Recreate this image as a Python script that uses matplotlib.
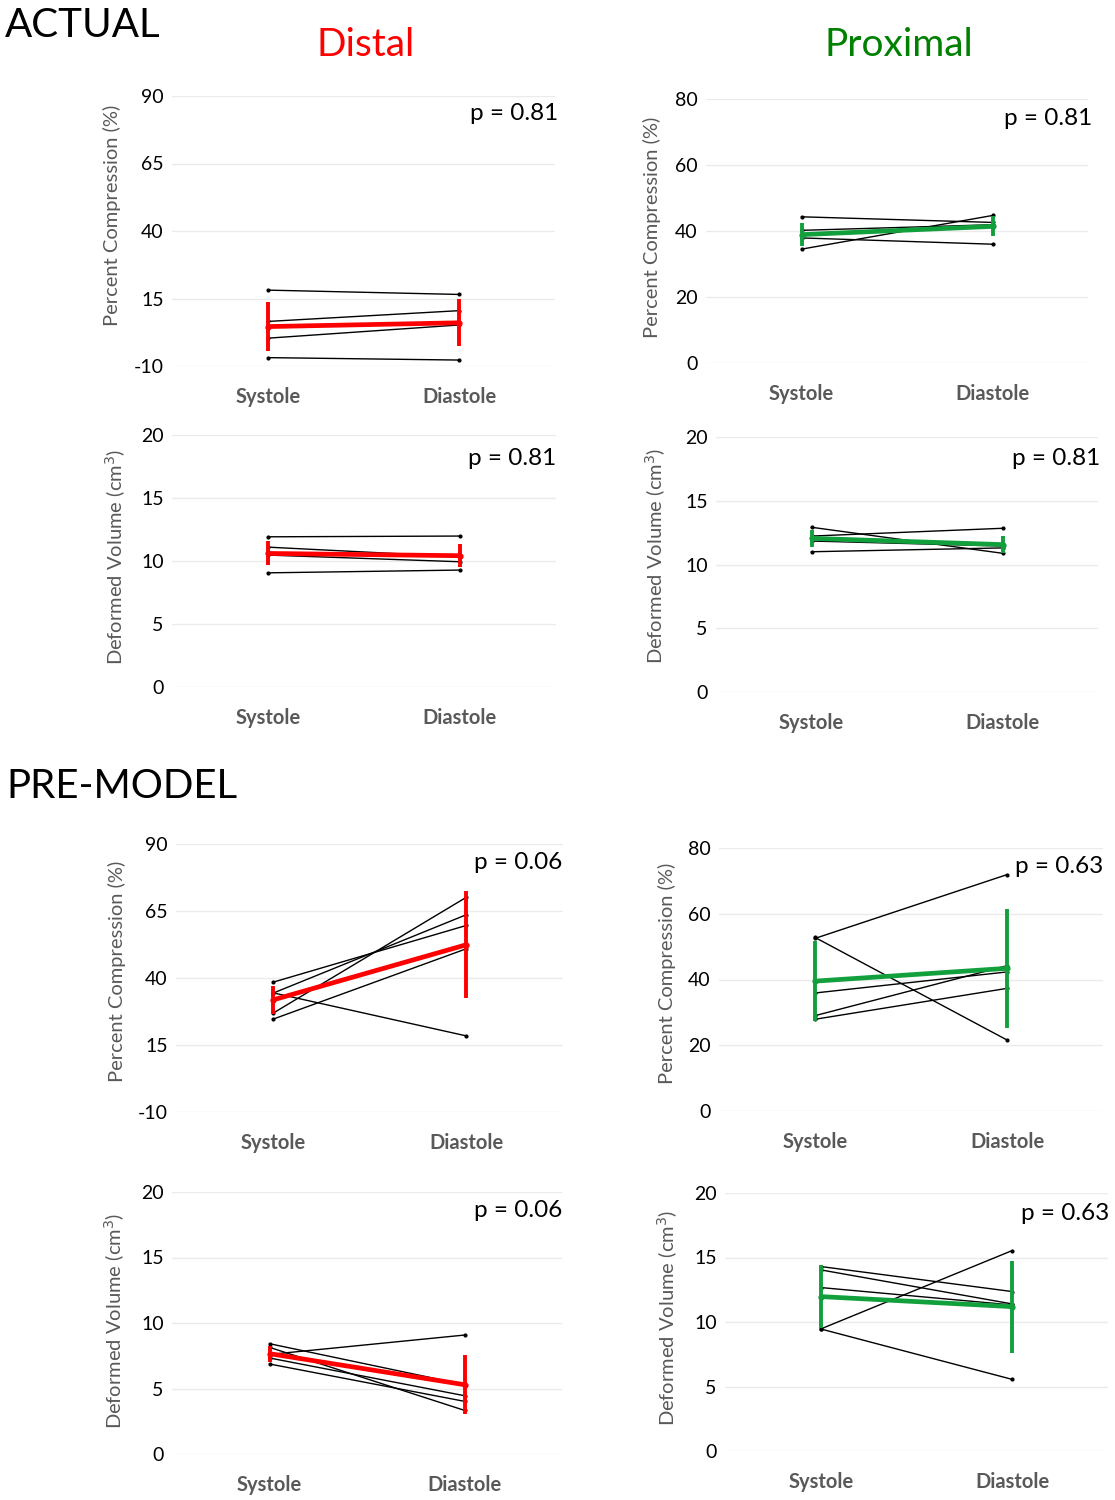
import matplotlib
matplotlib.use("Agg")
import matplotlib.pyplot as plt

plt.rcParams['font.family'] = ['Lato', 'DejaVu Sans']

categories = ["Systole", "Diastole"]

# ---- ACTUAL ----
act_dist_comp_sys = [18.1, 6.5, 0.3, -6.9]
act_dist_comp_dia = [16.5, 10.5, 5.2, -7.8]
act_dist_comp_mean = [4.6, 6.0]
act_dist_comp_err = [8.95, 8.7]

act_prox_comp_sys = [44.3, 40.2, 37.9, 34.5]
act_prox_comp_dia = [42.6, 41.9, 36.0, 44.7]
act_prox_comp_mean = [38.9, 41.4]
act_prox_comp_err = [3.4, 3.0]

act_dist_vol_sys = [11.92, 11.1, 10.47, 9.06]
act_dist_vol_dia = [11.98, 10.33, 9.94, 9.28]
act_dist_vol_mean = [10.6, 10.42]
act_dist_vol_err = [0.95, 0.93]

act_prox_vol_sys = [12.92, 12.23, 11.84, 11.0]
act_prox_vol_dia = [10.88, 12.84, 11.45, 11.3]
act_prox_vol_mean = [12.05, 11.56]
act_prox_vol_err = [0.68, 0.68]

# ---- PRE-MODEL ----
pre_dist_comp_sys = [38.4, 34.3, 34.5, 26.8, 24.6]
pre_dist_comp_dia = [59.6, 63.6, 18.4, 70.1, 50.9]
pre_dist_comp_mean = [31.8, 52.4]
pre_dist_comp_err = [5.35, 20.0]

pre_prox_comp_sys = [52.5, 52.8, 35.9, 29.0, 27.9]
pre_prox_comp_dia = [71.9, 21.6, 42.3, 44.2, 37.3]
pre_prox_comp_mean = [39.5, 43.4]
pre_prox_comp_err = [12.15, 18.1]

pre_dist_vol_sys = [8.42, 8.14, 7.33, 6.87, 7.6]
pre_dist_vol_dia = [5.29, 3.33, 4.45, 4.02, 9.08]
pre_dist_vol_mean = [7.66, 5.29]
pre_dist_vol_err = [0.6, 2.24]

pre_prox_vol_sys = [14.3, 14.04, 12.67, 9.46, 9.46]
pre_prox_vol_dia = [12.36, 11.4, 11.32, 15.54, 5.55]
pre_prox_vol_mean = [11.97, 11.19]
pre_prox_vol_err = [2.42, 3.56]

comp_ticks_distal = [-10, 15, 40, 65, 90]
comp_ticks_proximal = [0, 20, 40, 60, 80]
vol_ticks = [0, 5, 10, 15, 20]

p_labels = ["p = 0.81", "p = 0.81", "p = 0.81", "p = 0.81",
            "p = 0.06", "p = 0.63", "p = 0.06", "p = 0.63"]

ylabel_comp = "Percent Compression (%)"
ylabel_vol = "Deformed Volume (cm$^3$)"

RED = "#FF0000"
GREEN = "#12A03C"
TITLE_GREEN = "#008000"

W, H = 1115, 1500
fig = plt.figure(figsize=(W / 100, H / 100), dpi=100)


def px_axes(l, t, r, b):
    return fig.add_axes([l / W, 1 - b / H, (r - l) / W, (b - t) / H])


panels = [
    # box (l,t,r,b), sys, dia, mean, err, ticks, color, ylabel, label (x,y) px, p baseline (x,y)
    ((172, 96, 555, 366), act_dist_comp_sys, act_dist_comp_dia, act_dist_comp_mean, act_dist_comp_err,
     comp_ticks_distal, RED, ylabel_comp, (112, 215), (558, 120)),
    ((706, 99, 1088, 363), act_prox_comp_sys, act_prox_comp_dia, act_prox_comp_mean, act_prox_comp_err,
     comp_ticks_proximal, GREEN, ylabel_comp, (652, 227), (1092, 125)),
    ((172, 435, 556, 687), act_dist_vol_sys, act_dist_vol_dia, act_dist_vol_mean, act_dist_vol_err,
     vol_ticks, RED, ylabel_vol, (116, 557), (556, 465)),
    ((716, 437, 1098, 692), act_prox_vol_sys, act_prox_vol_dia, act_prox_vol_mean, act_prox_vol_err,
     vol_ticks, GREEN, ylabel_vol, (656, 556), (1100, 465)),
    ((176, 844, 563, 1112), pre_dist_comp_sys, pre_dist_comp_dia, pre_dist_comp_mean, pre_dist_comp_err,
     comp_ticks_distal, RED, ylabel_comp, (117, 971), (562, 869)),
    ((719, 848, 1103, 1111), pre_prox_comp_sys, pre_prox_comp_dia, pre_prox_comp_mean, pre_prox_comp_err,
     comp_ticks_proximal, GREEN, ylabel_comp, (667, 973), (1103, 873)),
    ((172, 1192, 562, 1454), pre_dist_vol_sys, pre_dist_vol_dia, pre_dist_vol_mean, pre_dist_vol_err,
     vol_ticks, RED, ylabel_vol, (115, 1321), (562, 1217)),
    ((725, 1193, 1108, 1451), pre_prox_vol_sys, pre_prox_vol_dia, pre_prox_vol_mean, pre_prox_vol_err,
     vol_ticks, GREEN, ylabel_vol, (668, 1318), (1109, 1220)),
]

xpos = [0, 1]
for i, (box, sys_v, dia_v, mean_v, err_v, ticks, col, ylab, labxy, pxy) in enumerate(panels):
    ax = px_axes(*box)
    for s, d in zip(sys_v, dia_v):
        ax.plot(xpos, [s, d], color="black", lw=1.0, marker="o", ms=2.0, zorder=3)
    ax.plot(xpos, mean_v, color=col, lw=3.4, marker="o", ms=3.5, zorder=4, solid_capstyle="butt")
    ax.errorbar(xpos, mean_v, yerr=err_v, fmt="none", ecolor=col, elinewidth=2.8, capsize=0, zorder=4)
    ax.set_xlim(-0.5, 1.5)
    ax.set_ylim(ticks[0], ticks[-1])
    ax.set_yticks(ticks)
    ax.set_yticklabels([str(t) for t in ticks], fontsize=14, color="black")
    ax.set_xticks(xpos)
    ax.set_xticklabels(categories, fontsize=14.5, fontweight="bold", color="#595959")
    ax.tick_params(axis="both", length=0)
    ax.tick_params(axis="y", pad=6)
    ax.tick_params(axis="x", pad=15)
    ax.grid(axis="y", color="#ebebeb", lw=1.0)
    ax.set_axisbelow(True)
    for sp in ax.spines.values():
        sp.set_visible(False)
    l, t, r, b = box
    ax.set_ylabel(ylab, fontsize=14.5, color="#595959")
    ax.yaxis.set_label_coords((labxy[0] - l) / (r - l), (b - labxy[1]) / (b - t))
    ax.yaxis.label.set_verticalalignment("center")
    fig.text(pxy[0] / W, 1 - pxy[1] / H, p_labels[i], fontsize=17.5, ha="right", va="baseline", color="black")

fig.text(5 / W, 1 - 37 / H, "ACTUAL", fontsize=29, ha="left", va="baseline", color="black")
fig.text(366 / W, 1 - 56 / H, "Distal", fontsize=28, ha="center", va="baseline", color=RED)
fig.text(899 / W, 1 - 56 / H, "Proximal", fontsize=28, ha="center", va="baseline", color=TITLE_GREEN)
fig.text(6 / W, 1 - 798 / H, "PRE-MODEL", fontsize=29, ha="left", va="baseline", color="black")

fig.savefig("out.png", dpi=100)
